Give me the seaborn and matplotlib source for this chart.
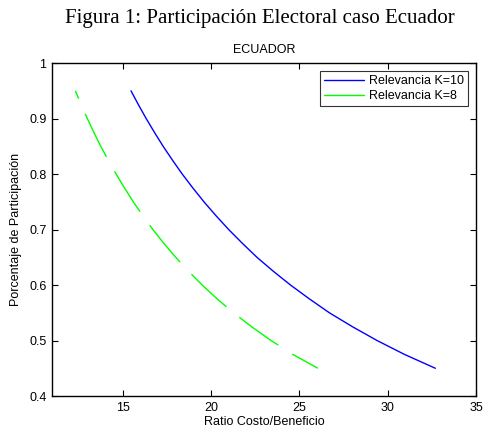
import matplotlib
matplotlib.use("Agg")
import matplotlib.pyplot as plt
import numpy as np
import pandas as pd
import seaborn as sns

# values
participacion = [0.95, 0.925, 0.90, 0.875, 0.85, 0.825, 0.80, 0.775, 0.75, 0.725, 0.70,
                 0.675, 0.65, 0.625, 0.60, 0.575, 0.55, 0.525, 0.50, 0.475, 0.45]
ratio_k10 = [15.47, 15.89, 16.33, 16.80, 17.29, 17.82, 18.37, 18.97, 19.60, 20.28, 21.00,
             21.78, 22.60, 23.52, 24.50, 25.57, 26.70, 28.00, 29.40, 30.95, 32.70]
ratio_k8 = [12.32, 12.65, 13.00, 13.37, 13.76, 14.18, 14.63, 15.10, 15.60, 16.14, 16.71,
            17.33, 18.00, 18.72, 19.50, 20.35, 21.27, 22.29, 23.40, 24.63, 26.05]
series_names = ["Relevancia K=10", "Relevancia K=8"]
x_ticks = [15, 20, 25, 30, 35]
y_ticks = [0.4, 0.5, 0.6, 0.7, 0.8, 0.9, 1.0]
y_ticklabels = ["0.4", "0.5", "0.6", "0.7", "0.8", "0.9", "1"]

df = pd.concat([
    pd.DataFrame({"ratio": ratio_k10, "part": participacion, "serie": series_names[0]}),
    pd.DataFrame({"ratio": ratio_k8, "part": participacion, "serie": series_names[1]}),
])

sns.set_style("ticks")
plt.rcParams["font.family"] = ["Liberation Sans", "DejaVu Sans"]
plt.rcParams["xtick.direction"] = "in"
plt.rcParams["ytick.direction"] = "in"
for k in ["text.color", "axes.labelcolor", "xtick.color", "ytick.color"]:
    plt.rcParams[k] = "black"

fig = plt.figure(figsize=(4.83, 4.32), dpi=100)
ax = fig.add_axes([0.1077, 0.0833, 0.8778, 0.7707])

sns.lineplot(data=df, x="ratio", y="part", hue="serie", sort=False,
             palette={series_names[0]: "#0000ff", series_names[1]: "#00ff00"},
             linewidth=1.0, ax=ax, estimator=None)

ax.set_xlim(11, 35)
ax.set_ylim(0.4, 1.0)

# green curve shows long dashes in the original; fit the pattern so both ends are drawn
green = ax.lines[1]
pts = ax.transData.transform(np.column_stack([ratio_k8, participacion]))
length_pt = np.hypot(*np.diff(pts, axis=0).T).sum() * 72 / fig.dpi
on, off, start = 32.4, 11.2, 26.6
n = max(1, round((start + length_pt - on * 0.6) / (on + off)))
scale = (start + length_pt - on * 0.6) / (n * (on + off))
green.set_linestyle((start * scale, (on * scale, off * scale)))

ax.set_xticks(x_ticks)
ax.set_yticks(y_ticks)
ax.set_yticklabels(y_ticklabels)
ax.tick_params(axis="both", labelsize=9, length=4, width=0.8, color="black",
               labelcolor="black", top=True, right=True, pad=4)
for s in ax.spines.values():
    s.set_visible(True)
    s.set_color("black")
    s.set_linewidth(1.0)

ax.set_xlabel("Ratio Costo/Beneficio", fontsize=9, labelpad=2)
ax.set_ylabel("Porcentaje de Participación", fontsize=9, labelpad=5)
ax.set_title("ECUADOR", fontsize=9, pad=7)

leg = ax.legend(loc="upper right", fontsize=9, frameon=True, fancybox=False,
                handlelength=3.2, borderaxespad=0.6, borderpad=0.35,
                labelspacing=0.25, handletextpad=0.4)
leg.get_frame().set_edgecolor("black")
leg.get_frame().set_linewidth(0.8)
for h in leg.get_lines():
    h.set_linestyle("-")

fig.text(0.538, 0.958, "Figura 1: Participación Electoral caso Ecuador",
         ha="center", va="center", fontsize=15, family="Liberation Serif")

fig.savefig("out.png", dpi=100)
